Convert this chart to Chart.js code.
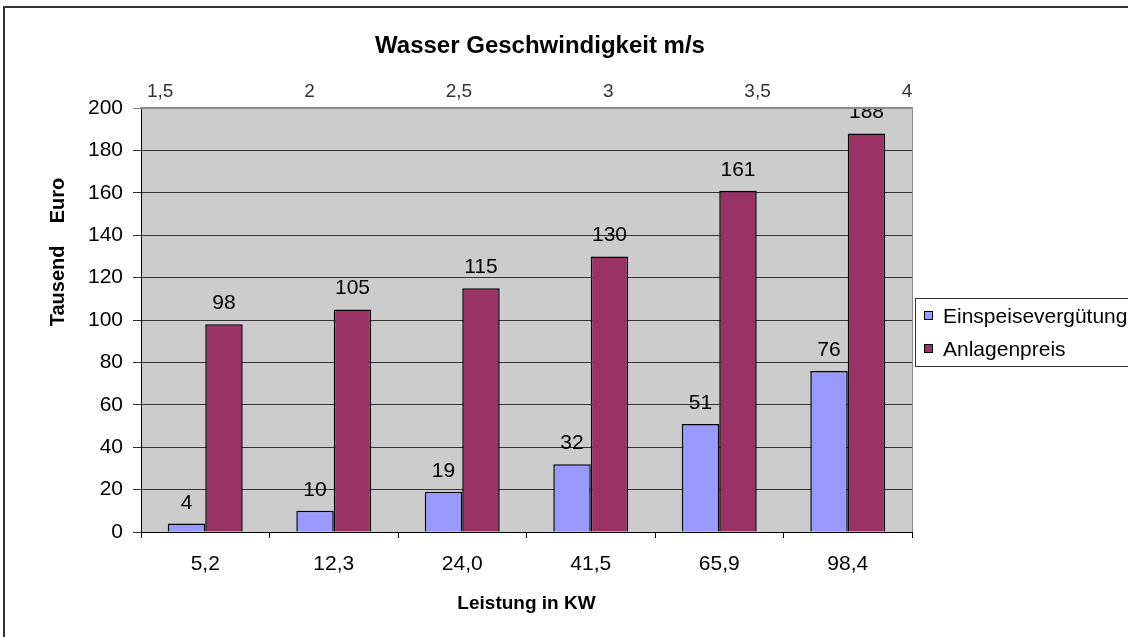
<!DOCTYPE html>
<html>
<head>
<meta charset="utf-8">
<script src="https://cdn.jsdelivr.net/npm/chart.js@4"></script>
<style>
  html, body { margin: 0; padding: 0; background: #fff; }
  canvas { display: block; }
</style>
</head>
<body>
<canvas id="chart" width="1128" height="637"></canvas>
<script>
// Daten
const kategorien = ["5,2", "12,3", "24,0", "41,5", "65,9", "98,4"];
const einspeisevergutung = [4, 10, 19, 32, 51, 76];
const anlagenpreis = [98, 105, 115, 130, 161, 188];
const geschwindigkeit = [1.5, 2, 2.5, 3, 3.5, 4];

const SCHRIFT = "'Liberation Sans', Arial, sans-serif";
Chart.defaults.font.family = SCHRIFT;
Chart.defaults.color = "#000";

// Hintergrund, Rahmen, Plotfläche
const hintergrund = {
    id: "hintergrund",
    beforeDraw(chart) {
        const { ctx, chartArea: a } = chart;
        ctx.save();
        ctx.fillStyle = "#fff";
        ctx.fillRect(0, 0, chart.width, chart.height);
        ctx.strokeStyle = "#333";
        ctx.lineWidth = 2;
        ctx.strokeRect(4, 7, chart.width + 20, chart.height + 20);
        ctx.fillStyle = "#cccccc";
        ctx.fillRect(a.left, a.top, a.right - a.left, a.bottom - a.top);
        ctx.restore();
    },
    beforeDatasetsDraw(chart) {
        const { ctx, chartArea: a } = chart;
        ctx.save();
        ctx.strokeStyle = "#8a8a8a";
        ctx.lineWidth = 1;
        ctx.beginPath();
        ctx.moveTo(a.right + 0.5, a.top);
        ctx.lineTo(a.right + 0.5, a.bottom);
        ctx.stroke();
        ctx.restore();
    }
};

// Werte über den Balken
const werte = {
    id: "werte",
    afterDatasetsDraw(chart) {
        const { ctx, chartArea: a } = chart;
        ctx.save();
        ctx.beginPath();
        ctx.rect(a.left, a.top + 1, a.right - a.left, a.bottom - a.top);
        ctx.clip();
        ctx.font = "21px " + SCHRIFT;
        ctx.fillStyle = "#000";
        ctx.textAlign = "center";
        ctx.textBaseline = "alphabetic";
        chart.data.datasets.forEach((ds, i) => {
            chart.getDatasetMeta(i).data.forEach((bar, j) => {
                ctx.fillText(ds.data[j], bar.x, bar.y - 15);
            });
        });
        ctx.restore();
    }
};

// Titel, Y-Achsentitel, Legende
const beschriftung = {
    id: "beschriftung",
    afterDraw(chart) {
        const { ctx } = chart;
        ctx.save();
        ctx.fillStyle = "#000";
        ctx.textAlign = "center";
        ctx.textBaseline = "middle";
        ctx.font = "bold 24px " + SCHRIFT;
        ctx.fillText("Wasser Geschwindigkeit m/s", 540, 46);

        ctx.translate(58, 252);
        ctx.rotate(-Math.PI / 2);
        ctx.font = "bold 20px " + SCHRIFT;
        ctx.fillText("Tausend    Euro", 0, 0);
        ctx.setTransform(1, 0, 0, 1, 0, 0);

        // Legende
        ctx.strokeStyle = "#333";
        ctx.lineWidth = 1;
        ctx.strokeRect(915.5, 298.5, 240, 68);
        ctx.font = "21px " + SCHRIFT;
        ctx.textAlign = "left";
        chart.data.datasets.forEach((ds, i) => {
            const y = 316 + i * 33;
            ctx.fillStyle = ds.backgroundColor;
            ctx.fillRect(924.5, y - 4.5, 8, 8);
            ctx.strokeStyle = "#000";
            ctx.strokeRect(924.5, y - 4.5, 8, 8);
            ctx.fillStyle = "#000";
            ctx.fillText(ds.label, 943, y + 1);
        });
        ctx.restore();
    }
};

new Chart(document.getElementById("chart"), {
    type: "bar",
    data: {
        labels: kategorien,
        datasets: [{
            label: "Einspeisevergütung",
            data: einspeisevergutung,
            backgroundColor: "#9999ff",
            borderColor: "#000",
            borderWidth: 1.5,
            xAxisID: "x",
            yAxisID: "y"
        }, {
            label: "Anlagenpreis",
            data: anlagenpreis,
            backgroundColor: "#993366",
            borderColor: "#000",
            borderWidth: 1.5,
            xAxisID: "x",
            yAxisID: "y"
        }]
    },
    options: {
        responsive: false,
        animation: false,
        layout: { padding: { left: 0, top: 0, right: 216, bottom: 0 } },
        categoryPercentage: 0.583,
        barPercentage: 1,
        plugins: {
            legend: { display: false },
            tooltip: { enabled: false }
        },
        scales: {
            y: {
                position: "left",
                min: 0,
                max: 200,
                ticks: { stepSize: 20, font: { size: 21 }, color: "#000", padding: 10 },
                grid: {
                    color: ctx => ctx.tick && ctx.tick.value === 200 ? "#8a8a8a" : "#333",
                    tickLength: 8
                },
                border: { color: "#000", width: 1 },
                afterFit: s => { s.width = 141; }
            },
            x: {
                position: "bottom",
                offset: true,
                grid: { offset: true, drawOnChartArea: false, tickLength: 6, color: "#000" },
                border: { color: "#000", width: 1 },
                ticks: { font: { size: 21 }, color: "#000", padding: 14 },
                title: {
                    display: true,
                    text: "Leistung in KW",
                    font: { size: 19, weight: "bold" },
                    color: "#000",
                    padding: { top: 0, bottom: 22 }
                },
                afterFit: s => { s.height = 105; }
            },
            x2: {
                type: "linear",
                position: "top",
                offset: false,
                min: 1.436,
                max: 4.017,
                afterBuildTicks: s => { s.ticks = geschwindigkeit.map(v => ({ value: v })); },
                ticks: {
                    font: { size: 19 },
                    color: "#333",
                    padding: 5,
                    callback: v => String(v).replace(".", ",")
                },
                grid: { display: true, drawOnChartArea: false, drawTicks: false },
                border: { color: "#8a8a8a", width: 2 },
                afterFit: s => { s.height = 108; }
            }
        }
    },
    plugins: [hintergrund, werte, beschriftung]
});
</script>
</body>
</html>
